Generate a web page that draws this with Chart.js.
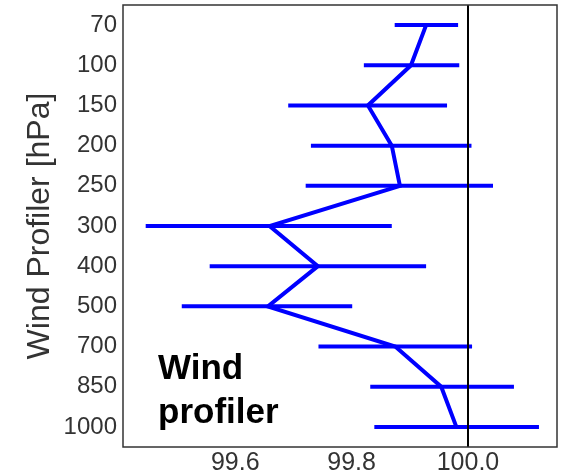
<!DOCTYPE html>
<html>
<head>
<meta charset="utf-8">
<script src="https://cdn.jsdelivr.net/npm/chart.js@4"></script>
<style>
  html, body { margin: 0; padding: 0; background: #fff; }
  canvas { display: block; }
</style>
</head>
<body>
<canvas id="profChart" width="563" height="476"></canvas>
<script>
const ctx = document.getElementById("profChart").getContext("2d");

// pressure levels, top to bottom
const levels = ["70", "100", "150", "200", "250", "300", "400", "500", "700", "850", "1000"];
const centers = [99.928, 99.902, 99.828, 99.869, 99.883, 99.659, 99.742, 99.656, 99.875, 99.954, 99.980];
const lows = [99.874, 99.821, 99.691, 99.730, 99.721, 99.446, 99.556, 99.508, 99.743, 99.832, 99.839];
const highs = [99.983, 99.985, 99.964, 100.006, 100.043, 99.869, 99.928, 99.801, 100.007, 100.079, 100.122];
const xTicks = [99.6, 99.8, 100.0];
const refValue = 100.0;

const blue = "#0000ff";
const font = "'Liberation Sans', Arial, sans-serif";

const errorBarPlugin = {
  id: "errorBars",
  beforeDatasetsDraw(chart) {
    const { ctx, scales: { x, y } } = chart;
    ctx.save();
    ctx.strokeStyle = blue;
    ctx.lineWidth = 4;
    levels.forEach((lv, i) => {
      const yPos = y.getPixelForValue(i);
      ctx.beginPath();
      ctx.moveTo(x.getPixelForValue(lows[i]), yPos);
      ctx.lineTo(x.getPixelForValue(highs[i]), yPos);
      ctx.stroke();
    });
    ctx.restore();
  },
  afterDatasetsDraw(chart) {
    const { ctx, scales: { x }, chartArea: { left, right, top, bottom } } = chart;
    ctx.save();
    // reference line
    const xr = Math.round(x.getPixelForValue(refValue));
    ctx.strokeStyle = "#000";
    ctx.lineWidth = 2;
    ctx.beginPath();
    ctx.moveTo(xr, top);
    ctx.lineTo(xr, bottom);
    ctx.stroke();
    // frame
    ctx.strokeStyle = "#333";
    ctx.lineWidth = 1.5;
    ctx.strokeRect(left, top, right - left, bottom - top);
    // annotation
    ctx.fillStyle = "#000";
    ctx.font = "bold 35px " + font;
    ctx.textAlign = "left";
    ctx.textBaseline = "alphabetic";
    ctx.fillText("Wind", left + 35, bottom - 68);
    ctx.fillText("profiler", left + 35, bottom - 24);
    ctx.restore();
  },
};

const chart = new Chart(ctx, {
  type: "line",
  data: {
    labels: levels,
    datasets: [
      {
        label: "Wind profiler",
        data: centers,
        borderColor: blue,
        borderWidth: 4,
        pointRadius: 0,
        tension: 0,
        fill: false,
      },
    ],
  },
  options: {
    responsive: false,
    animation: false,
    indexAxis: "y",
    layout: { padding: { left: 0, right: 6, top: 5, bottom: 0 } },
    scales: {
      x: {
        type: "linear",
        min: 99.407,
        max: 100.153,
        grid: { display: false, drawTicks: false },
        border: { display: false },
        afterBuildTicks: (scale) => {
          scale.ticks = xTicks.map((v) => ({ value: v }));
        },
        afterFit: (scale) => {
          scale.height = 29;
          scale.paddingLeft = 0;
          scale.paddingRight = 0;
        },
        ticks: {
          color: "#333",
          font: { family: font, size: 25 },
          padding: 1,
          maxRotation: 0,
          callback: (v) => Number(v).toFixed(1),
        },
      },
      y: {
        type: "category",
        offset: true,
        grid: { display: false, drawTicks: false },
        border: { display: false },
        afterFit: (scale) => {
          scale.width = 123;
          scale.paddingTop = 0;
          scale.paddingBottom = 0;
        },
        ticks: {
          color: "#333",
          font: { family: font, size: 24 },
          padding: 6,
        },
        title: {
          display: true,
          text: "Wind Profiler [hPa]",
          color: "#333",
          font: { family: font, size: 32 },
          padding: { top: 21, bottom: 0 },
        },
      },
    },
    plugins: { legend: { display: false }, tooltip: { enabled: false } },
  },
  plugins: [errorBarPlugin],
});
</script>
</body>
</html>
